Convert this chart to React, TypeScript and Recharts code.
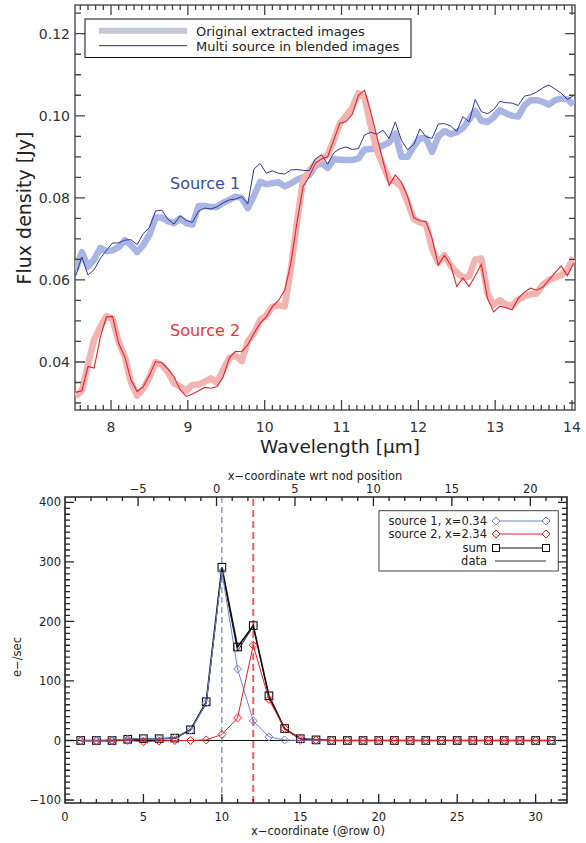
import React from 'react';
import { LineChart, Line, XAxis, YAxis, ReferenceLine, ReferenceArea } from 'recharts';

// ── top panel: spectra of the two blended sources ──
const wavelength = [
  7.54, 7.62, 7.70, 7.78, 7.86, 7.94, 8.02, 8.10, 8.18, 8.26,
  8.34, 8.42, 8.50, 8.58, 8.66, 8.74, 8.82, 8.90, 8.98, 9.06,
  9.14, 9.22, 9.30, 9.38, 9.46, 9.54, 9.62, 9.70, 9.78, 9.86,
  9.94, 10.02, 10.10, 10.18, 10.26, 10.34, 10.42, 10.50, 10.58, 10.66,
  10.74, 10.82, 10.90, 10.98, 11.06, 11.14, 11.22, 11.30, 11.38, 11.46,
  11.54, 11.62, 11.70, 11.78, 11.86, 11.94, 12.02, 12.10, 12.18, 12.26,
  12.34, 12.42, 12.50, 12.58, 12.66, 12.74, 12.82, 12.90, 12.98, 13.06,
  13.14, 13.22, 13.30, 13.38, 13.46, 13.54, 13.62, 13.70, 13.78, 13.86,
  13.94, 14.02,
];

const src1Original = [
  0.0625, 0.0668, 0.0632, 0.0650, 0.0678, 0.0670, 0.0672, 0.0680, 0.0697, 0.0685,
  0.0668, 0.0685, 0.0710, 0.0752, 0.0752, 0.0743, 0.0738, 0.0750, 0.0738, 0.0735,
  0.0780, 0.0780, 0.0778, 0.0778, 0.0788, 0.0795, 0.0803, 0.0800, 0.0775, 0.0805,
  0.0839, 0.0833, 0.0836, 0.0838, 0.0828, 0.0835, 0.0844, 0.0850, 0.0855, 0.0878,
  0.0885, 0.0873, 0.0894, 0.0893, 0.0892, 0.0892, 0.0896, 0.0918, 0.0919, 0.0920,
  0.0928, 0.0935, 0.0957, 0.0900, 0.0900, 0.0925, 0.0945, 0.0945, 0.0912, 0.0950,
  0.0963, 0.0955, 0.0960, 0.0970, 0.0990, 0.1012, 0.0988, 0.0985, 0.0996, 0.1014,
  0.1006, 0.1000, 0.0998, 0.1025, 0.1038, 0.1038, 0.1034, 0.1027, 0.1038, 0.1042,
  0.1040, 0.1027,
];

const src1Multi = [
  0.0610, 0.0656, 0.0612, 0.0625, 0.0652, 0.0672, 0.0690, 0.0690, 0.0697, 0.0698,
  0.0686, 0.0713, 0.0728, 0.0768, 0.0770, 0.0748, 0.0736, 0.0756, 0.0745, 0.0740,
  0.0768, 0.0775, 0.0773, 0.0778, 0.0788, 0.0795, 0.0797, 0.0803, 0.0785, 0.0870,
  0.0884, 0.0860, 0.0866, 0.0860, 0.0858, 0.0868, 0.0869, 0.0867, 0.0866, 0.0895,
  0.0905, 0.0882, 0.0910, 0.0920, 0.0924, 0.0918, 0.0920, 0.0953, 0.0960, 0.0955,
  0.0965, 0.0945, 0.0985, 0.0940, 0.0917, 0.0930, 0.0968, 0.0949, 0.0945, 0.0980,
  0.0981, 0.0975, 0.0962, 0.0998, 0.0985, 0.1040, 0.1010, 0.1005, 0.1015, 0.1035,
  0.1032, 0.1031, 0.1025, 0.1048, 0.1051, 0.1058, 0.1068, 0.1075, 0.1065, 0.1055,
  0.1040, 0.1049,
];

const src2Original = [
  0.0316, 0.0330, 0.0393, 0.0455, 0.0485, 0.0512, 0.0505, 0.0448, 0.0413, 0.0350,
  0.0318, 0.0335, 0.0362, 0.0400, 0.0393, 0.0375, 0.0348, 0.0340, 0.0330, 0.0344,
  0.0345, 0.0352, 0.0360, 0.0350, 0.0381, 0.0410, 0.0416, 0.0402, 0.0450, 0.0470,
  0.0502, 0.0513, 0.0535, 0.0538, 0.0535, 0.0625, 0.0740, 0.0845, 0.0866, 0.0885,
  0.0895, 0.0905, 0.0941, 0.0982, 0.1000, 0.1020, 0.1055, 0.1045, 0.0975, 0.0915,
  0.0880, 0.0844, 0.0840, 0.0826, 0.0790, 0.0748, 0.0740, 0.0736, 0.0675, 0.0642,
  0.0660, 0.0635, 0.0618, 0.0606, 0.0608, 0.0650, 0.0652, 0.0567, 0.0540, 0.0551,
  0.0540, 0.0537, 0.0552, 0.0560, 0.0565, 0.0567, 0.0588, 0.0600, 0.0606, 0.0612,
  0.0625, 0.0655,
];

const src2Multi = [
  0.0326, 0.0330, 0.0389, 0.0385, 0.0460, 0.0510, 0.0511, 0.0445, 0.0412, 0.0356,
  0.0328, 0.0340, 0.0368, 0.0401, 0.0398, 0.0383, 0.0364, 0.0332, 0.0316, 0.0322,
  0.0330, 0.0338, 0.0336, 0.0340, 0.0364, 0.0410, 0.0426, 0.0425, 0.0442, 0.0470,
  0.0494, 0.0510, 0.0535, 0.0550, 0.0575, 0.0640, 0.0740, 0.0828, 0.0852, 0.0884,
  0.0895, 0.0900, 0.0942, 0.0982, 0.0986, 0.1004, 0.1050, 0.1062, 0.1010, 0.0950,
  0.0890, 0.0830, 0.0856, 0.0838, 0.0803, 0.0752, 0.0744, 0.0742, 0.0700, 0.0636,
  0.0660, 0.0636, 0.0584, 0.0605, 0.0584, 0.0610, 0.0638, 0.0555, 0.0522, 0.0536,
  0.0532, 0.0527, 0.0555, 0.0570, 0.0580, 0.0575, 0.0582, 0.0600, 0.0618, 0.0634,
  0.0610, 0.0640,
];

const wlTicks = [8, 9, 10, 11, 12, 13, 14];
const fluxTicks = [0.04, 0.06, 0.08, 0.10, 0.12];

// ── bottom panel: cross-dispersion profile ──
const pixelX = [
  1, 2, 3, 4, 5, 6, 7, 8, 9, 10, 11, 12, 13, 14, 15, 16,
  17, 18, 19, 20, 21, 22, 23, 24, 25, 26, 27, 28, 29, 30, 31,
];
const source1Counts = [
  0, 0, 1, 2, 4, 3, 4, 17, 63, 284, 120, 33, 6, 1, 0, 0,
  0, 0, 0, 0, 0, 0, 0, 0, 0, 0, 0, 0, 0, 0, 0,
];
const source2Counts = [
  -1, -1, -1, 0, -2, -1, 0, 0, 1, 10, 38, 160, 69, 20, 3, 1,
  0, 0, 0, 0, 0, 0, 0, 0, 0, 0, 0, 0, 0, 0, 0,
];
const sumCounts = [
  0, 0, 0, 2, 3, 3, 4, 18, 65, 291, 157, 193, 75, 20, 3, 1,
  0, 0, 0, 0, 0, 0, 0, 0, 0, 0, 0, 0, 0, 0, 0,
];
const dataCounts = [
  0, 0, 0, 1, 3, 3, 4, 17, 62, 287, 150, 192, 73, 19, 3, 1,
  0, 0, 0, 0, 0, 0, 0, 0, 0, 0, 0, 0, 0, 0, 0,
];
const pixelTicks = [0, 5, 10, 15, 20, 25, 30];
const nodTicks = [-5, 0, 5, 10, 15, 20];
const countTicks = [-100, 0, 100, 200, 300, 400];
const source1Pos = 10.0;
const source2Pos = 12.0;
const nodOffset = 9.66;

const WL_DOMAIN: [number, number] = [7.531, 14.039];
const FLUX_DOMAIN: [number, number] = [0.0283, 0.127];
const PIX_DOMAIN: [number, number] = [0, 32];
const NOD_DOMAIN: [number, number] = [PIX_DOMAIN[0] - nodOffset, PIX_DOMAIN[1] - nodOffset];
const COUNT_DOMAIN: [number, number] = [-105, 409];

// plot boxes on the page (chart sizes minus margins and axis bands)
const TOP_BOX = { left: 75, right: 575, top: 5, bottom: 410 };
const BOT_BOX = { left: 65, right: 567, top: 497, bottom: 803 };

const FONT = '"DejaVu Sans", sans-serif';

const steps = (from: number, to: number, step: number) => {
  const out: number[] = [];
  for (let v = from; v <= to + 1e-9; v += step) out.push(+v.toFixed(4));
  return out;
};

const isOn = (v: number, list: number[]) => list.some(t => Math.abs(t - v) < 1e-6);

// axis labels for the major ticks
interface LabelOpts {
  side: 'bottom' | 'top' | 'left';
  label: (v: number) => string;
  fontSize: number;
  fill: string;
  offset: number;
}
const axisLabel = (o: LabelOpts) => (p: any) => {
  const x = Number(p.x);
  const y = Number(p.y);
  const v = Number(p.payload?.value);
  const common = { fontSize: o.fontSize, fill: o.fill, fontFamily: FONT };
  const key = `lb${o.side}${p.index}`;
  if (o.side === 'left') {
    return <text key={key} x={x - o.offset} y={y} dy="0.36em" textAnchor="end" {...common}>{o.label(v)}</text>;
  }
  if (o.side === 'top') {
    return <text key={key} x={x} y={y - o.offset} textAnchor="middle" {...common}>{o.label(v)}</text>;
  }
  return <text key={key} x={x} y={y + o.offset} textAnchor="middle" {...common}>{o.label(v)}</text>;
};

// inward tick marks on the four sides of a plot box, as one svg path
function tickPath(o: {
  box: { left: number; right: number; top: number; bottom: number };
  xDom: [number, number]; yDom: [number, number];
  bottom: number[]; bottomMajor: number[];
  top: number[]; topMajor: number[];
  side: number[]; sideMajor: number[];
  majorPx: number; minorPx: number; sideMinorPx: number;
}) {
  const { box, xDom, yDom } = o;
  const px = (v: number) => box.left + ((v - xDom[0]) / (xDom[1] - xDom[0])) * (box.right - box.left);
  const py = (v: number) => box.bottom - ((v - yDom[0]) / (yDom[1] - yDom[0])) * (box.bottom - box.top);
  const parts: string[] = [];
  o.bottom.forEach(v => {
    const len = isOn(v, o.bottomMajor) ? o.majorPx : o.minorPx;
    parts.push(`M${px(v).toFixed(2)},${box.bottom}v${-len}`);
  });
  o.top.forEach(v => {
    const len = isOn(v, o.topMajor) ? o.majorPx : o.minorPx;
    parts.push(`M${px(v).toFixed(2)},${box.top}v${len}`);
  });
  o.side.forEach(v => {
    const len = isOn(v, o.sideMajor) ? o.majorPx : o.sideMinorPx;
    const y = py(v).toFixed(2);
    parts.push(`M${box.left},${y}h${len}`);
    parts.push(`M${box.right},${y}h${-len}`);
  });
  return parts.join('');
}

const diamond = (color: string) => (p: any) => {
  const { cx, cy, index } = p;
  if (cx == null || cy == null) return <g key={`d${index}`} />;
  const r = 4;
  return (
    <path key={`d${index}`} d={`M${cx},${cy - r}L${cx + r},${cy}L${cx},${cy + r}L${cx - r},${cy}Z`}
      fill="none" stroke={color} strokeWidth={1} />
  );
};

const square = (p: any) => {
  const { cx, cy, index } = p;
  if (cx == null || cy == null) return <g key={`s${index}`} />;
  return <rect key={`s${index}`} x={cx - 3.8} y={cy - 3.8} width={7.6} height={7.6} fill="none" stroke="#111" strokeWidth={1.1} />;
};

const minus = (v: number) => (v < 0 ? `\u2212${Math.abs(v)}` : `${v}`);

export default function App() {
  const spectrum = wavelength.map((w, i) => ({
    w,
    s1o: src1Original[i],
    s1m: src1Multi[i],
    s2o: src2Original[i],
    s2m: src2Multi[i],
  }));

  const profile = pixelX.map((x, i) => ({
    x,
    nod: x - nodOffset,
    s1: source1Counts[i],
    s2: source2Counts[i],
    sum: sumCounts[i],
    data: dataCounts[i],
  }));

  const wlAll = steps(7.6, 14.0, 0.1);
  const topTickD = tickPath({
    box: TOP_BOX, xDom: WL_DOMAIN, yDom: FLUX_DOMAIN,
    bottom: wlAll, bottomMajor: wlTicks, top: wlAll, topMajor: wlTicks,
    side: steps(0.03, 0.125, 0.005), sideMajor: fluxTicks, majorPx: 10, minorPx: 5, sideMinorPx: 6,
  });
  const botTickD = tickPath({
    box: BOT_BOX, xDom: PIX_DOMAIN, yDom: COUNT_DOMAIN,
    bottom: steps(1, 31, 1), bottomMajor: pixelTicks,
    top: steps(-9, 22, 1).map(n => n + nodOffset), topMajor: nodTicks.map(n => n + nodOffset),
    side: steps(-100, 400, 10), sideMajor: countTicks, majorPx: 9, minorPx: 4, sideMinorPx: 5,
  });

  const common = { type: 'number' as const, allowDataOverflow: true, interval: 0 as const, axisLine: false, tickSize: 0, tickMargin: 0 };

  return (
    <div style={{ position: 'absolute', left: 0, top: 0, width: 586, height: 843, background: '#fff', fontFamily: FONT }}>
      {/* ── spectra ── */}
      <div style={{ position: 'absolute', left: 0, top: 0 }}>
        <LineChart width={586} height={460} data={spectrum} margin={{ top: 5, right: 11, bottom: 0, left: 0 }}>
          <ReferenceArea xAxisId="wl" yAxisId="flux" x1={WL_DOMAIN[0]} x2={WL_DOMAIN[1]} y1={FLUX_DOMAIN[0]} y2={FLUX_DOMAIN[1]}
            fill="none" fillOpacity={0} stroke="#555" strokeWidth={1.5} />

          <XAxis xAxisId="wl" dataKey="w" domain={WL_DOMAIN} ticks={wlTicks} height={50} {...common} tickLine={false}
            tick={axisLabel({ side: 'bottom', label: v => `${v}`, fontSize: 14, fill: '#333', offset: 21.5 })} />
          <YAxis yAxisId="flux" dataKey="s1o" domain={FLUX_DOMAIN} ticks={fluxTicks} width={75} {...common} tickLine={false}
            tick={axisLabel({ side: 'left', label: v => v.toFixed(2), fontSize: 14, fill: '#333', offset: 5 })} />

          <Line xAxisId="wl" yAxisId="flux" dataKey="s1o" stroke="#a9b5e2" strokeWidth={6.5} strokeLinejoin="round"
            dot={false} activeDot={false} isAnimationActive={false} />
          <Line xAxisId="wl" yAxisId="flux" dataKey="s2o" stroke="#f2b3b3" strokeWidth={6.5} strokeLinejoin="round"
            dot={false} activeDot={false} isAnimationActive={false} />
          <Line xAxisId="wl" yAxisId="flux" dataKey="s1m" stroke="#2e3694" strokeWidth={1}
            dot={false} activeDot={false} isAnimationActive={false} />
          <Line xAxisId="wl" yAxisId="flux" dataKey="s2m" stroke="#e4232b" strokeWidth={1.1}
            dot={false} activeDot={false} isAnimationActive={false} />
        </LineChart>
      </div>

      {/* ── cross-dispersion profile ── */}
      <div style={{ position: 'absolute', left: 0, top: 460 }}>
        <LineChart width={586} height={383} data={profile} margin={{ top: 0, right: 19, bottom: 0, left: 0 }}>
          <ReferenceArea xAxisId="pix" yAxisId="cnt" x1={PIX_DOMAIN[0]} x2={PIX_DOMAIN[1]} y1={COUNT_DOMAIN[0]} y2={COUNT_DOMAIN[1]}
            fill="none" fillOpacity={0} stroke="#222" strokeWidth={1.6} />

          <XAxis xAxisId="pix" dataKey="x" domain={PIX_DOMAIN} ticks={pixelTicks} height={40} {...common} tickLine={false}
            tick={axisLabel({ side: 'bottom', label: minus, fontSize: 11.5, fill: '#222', offset: 17.5 })} />
          <XAxis xAxisId="nod" dataKey="nod" orientation="top" domain={NOD_DOMAIN} ticks={nodTicks} height={37} {...common} tickLine={false}
            tick={axisLabel({ side: 'top', label: minus, fontSize: 11.5, fill: '#222', offset: 4.5 })} />
          <YAxis yAxisId="cnt" dataKey="sum" domain={COUNT_DOMAIN} ticks={countTicks} width={65} {...common} tickLine={false}
            tick={axisLabel({ side: 'left', label: minus, fontSize: 11.5, fill: '#222', offset: 4 })} />

          <ReferenceLine xAxisId="pix" yAxisId="cnt" y={0} stroke="#111" strokeWidth={1.2} />
          <ReferenceLine xAxisId="pix" yAxisId="cnt" x={source1Pos} stroke="#5566bb" strokeWidth={1} strokeDasharray="6 4" />
          <ReferenceLine xAxisId="pix" yAxisId="cnt" x={source2Pos} stroke="#f06060" strokeWidth={2} strokeDasharray="7 4" />

          <Line xAxisId="pix" yAxisId="cnt" dataKey="data" stroke="#222" strokeWidth={1}
            dot={false} activeDot={false} isAnimationActive={false} />
          <Line xAxisId="pix" yAxisId="cnt" dataKey="sum" stroke="#111" strokeWidth={1.6}
            dot={square} activeDot={false} isAnimationActive={false} />
          <Line xAxisId="pix" yAxisId="cnt" dataKey="s1" stroke="#7080d2" strokeWidth={1}
            dot={diamond('#7080d2')} activeDot={false} isAnimationActive={false} />
          <Line xAxisId="pix" yAxisId="cnt" dataKey="s2" stroke="#e82020" strokeWidth={1}
            dot={diamond('#e82020')} activeDot={false} isAnimationActive={false} />
        </LineChart>
      </div>

      {/* ── ticks, titles, legends and annotations ── */}
      <svg width={586} height={843} style={{ position: 'absolute', left: 0, top: 0, pointerEvents: 'none' }}>
        <path d={topTickD} stroke="#444" strokeWidth={1.3} fill="none" />
        <path d={botTickD} stroke="#222" strokeWidth={1.3} fill="none" />
        <g fontFamily={FONT}>
          <rect x={85} y={19} width={326} height={38.5} fill="#fff" stroke="#111" strokeWidth={1} />
          <line x1={99} y1={30.7} x2={187} y2={30.7} stroke="#c3c8d6" strokeWidth={6} />
          <line x1={99} y1={45.7} x2={187} y2={45.7} stroke="#333" strokeWidth={1} />
          <text x={196} y={35.5} fontSize={13} fill="#222">Original extracted images</text>
          <text x={196} y={50.5} fontSize={13} fill="#222">Multi source in blended images</text>

          <text x={170} y={189} fontSize={16} fill="#3b4ba6">Source 1</text>
          <text x={170} y={336} fontSize={16} fill="#e83434">Source 2</text>

          <text transform="translate(31,208) rotate(-90)" textAnchor="middle" fontSize={19} fill="#222">Flux density [Jy]</text>
          <text x={340} y={453} textAnchor="middle" fontSize={18.5} fill="#222">Wavelength [µm]</text>

          <text x={315} y={480} textAnchor="middle" fontSize={11.5} fill="#222">x{'\u2212'}coordinate wrt nod position</text>
          <text x={318} y={835} textAnchor="middle" fontSize={11.5} fill="#222">x{'\u2212'}coordinate (@row 0)</text>
          <text transform="translate(21,657) rotate(-90)" textAnchor="middle" fontSize={11.5} fill="#222">e{'\u2212'}/sec</text>

          <rect x={379} y={510.7} width={179.3} height={60.3} fill="#fff" stroke="#444" strokeWidth={1} />
          <text x={487} y={525} textAnchor="end" fontSize={11.5} fill="#222">source 1, x=0.34</text>
          <text x={487} y={538} textAnchor="end" fontSize={11.5} fill="#222">source 2, x=2.34</text>
          <text x={487} y={552} textAnchor="end" fontSize={11.5} fill="#222">sum</text>
          <text x={487} y={565} textAnchor="end" fontSize={11.5} fill="#222">data</text>
          <line x1={496} y1={521} x2={546} y2={521} stroke="#7080d2" strokeWidth={1} />
          <path d="M496,517L500,521L496,525L492,521Z M546,517L550,521L546,525L542,521Z" fill="#fff" stroke="#7080d2" />
          <line x1={496} y1={534} x2={546} y2={534} stroke="#e82020" strokeWidth={1} />
          <path d="M496,530L500,534L496,538L492,534Z M546,530L550,534L546,538L542,534Z" fill="#fff" stroke="#e82020" />
          <line x1={496} y1={548} x2={546} y2={548} stroke="#111" strokeWidth={1.2} />
          <rect x={492.5} y={544.5} width={7} height={7} fill="#fff" stroke="#111" />
          <rect x={542.5} y={544.5} width={7} height={7} fill="#fff" stroke="#111" />
          <line x1={495} y1={561} x2={546} y2={561} stroke="#333" strokeWidth={1} />
        </g>
      </svg>
    </div>
  );
}
